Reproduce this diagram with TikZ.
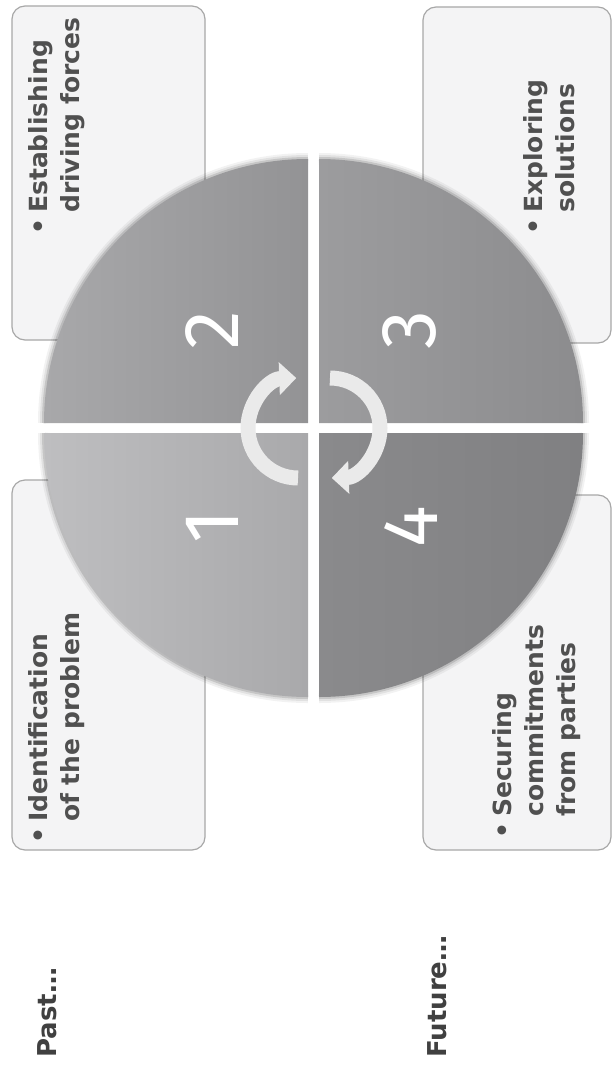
\documentclass[tikz,border=0pt]{standalone}
\usepackage{fontspec}
\setmainfont{DejaVu Sans}
\newfontfamily\numfont{Fira Sans}
\usetikzlibrary{arrows.meta}
\definecolor{boxfill}{HTML}{F4F4F5}
\definecolor{boxline}{HTML}{A8A8A8}
\definecolor{txt}{HTML}{505050}
\definecolor{txtdark}{HTML}{404040}
\definecolor{qoneL}{HTML}{BEBEC0}
\definecolor{qoneR}{HTML}{A9A9AB}
\definecolor{qtwoL}{HTML}{A8A8AA}
\definecolor{qtwoR}{HTML}{939395}
\definecolor{qthrL}{HTML}{9C9C9E}
\definecolor{qthrR}{HTML}{8C8C8E}
\definecolor{qfouL}{HTML}{8A8A8C}
\definecolor{qfouR}{HTML}{808082}
\definecolor{arrowfill}{HTML}{EAEAEA}
\tikzset{
  infobox/.style={draw=boxline, fill=boxfill, line width=1.2pt, rounded corners=13pt, inner sep=0pt},
  boxtext/.style={rotate=90, anchor=north west, inner sep=0pt, align=left, text=txt,
                  font=\bfseries\fontsize{25}{32}\selectfont},
  timetext/.style={rotate=90, anchor=north west, inner sep=0pt, text=txtdark,
                  font=\bfseries\fontsize{26}{32}\selectfont},
  num/.style={rotate=90, text=white, inner sep=0pt, font=\numfont\fontsize{78}{78}\selectfont},
  shad/.style={draw=black, line cap=butt},
  cyc/.style={draw=arrowfill, line width=15pt,
              -{Triangle[width=32pt,length=17pt]}}
}
\begin{document}
\begin{tikzpicture}[x=1pt,y=1pt]
\useasboundingbox (0,0) rectangle (612,-1065);

% boxes
\node[infobox, minimum width=193pt, minimum height=334pt] (boxA) at (108.5,-173) {};
\node[infobox, minimum width=188pt, minimum height=336pt] (boxB) at (517,-175) {};
\node[infobox, minimum width=193pt, minimum height=370pt] (boxC) at (108.5,-665) {};
\node[infobox, minimum width=188pt, minimum height=355pt] (boxD) at (517,-672.5) {};

% shadows along the circle edge
\foreach \w/\o in {12/0.05, 8/0.07, 4/0.12}{
  \draw[shad, line width=\w pt, opacity=\o] (44,-423) arc[start angle=180, end angle=90, radius=264pt];
  \draw[shad, line width=\w pt, opacity=\o] (583,-423) arc[start angle=0, end angle=90, radius=264pt];
  \draw[shad, line width=\w pt, opacity=\o] (44,-433) arc[start angle=180, end angle=270, radius=264pt];
  \draw[shad, line width=\w pt, opacity=\o] (583,-433) arc[start angle=0, end angle=-90, radius=264pt];
}

% quadrants
\shade[left color=qtwoL, right color=qtwoR]
  (308,-423) -- (44,-423) arc[start angle=180, end angle=90, radius=264pt] -- cycle;
\shade[left color=qthrL, right color=qthrR]
  (319,-423) -- (583,-423) arc[start angle=0, end angle=90, radius=264pt] -- cycle;
\shade[left color=qoneL, right color=qoneR]
  (308,-433) -- (44,-433) arc[start angle=180, end angle=270, radius=264pt] -- cycle;
\shade[left color=qfouL, right color=qfouR]
  (319,-433) -- (583,-433) arc[start angle=0, end angle=-90, radius=264pt] -- cycle;

% numbers
\node[num] (n1) at (212,-527) {1};
\node[num] (n2) at (212,-330) {2};
\node[num] (n3) at (409,-330) {3};
\node[num] (n4) at (411,-527) {4};

% cycle arrows
\draw[cyc] (298,-478) arc[start angle=270, end angle=92, radius=50pt];
\draw[cyc] (330,-378) arc[start angle=90, end angle=-88, radius=50pt];

% box texts
\node[boxtext] (tA) at (28,-235) {\makebox[22pt][l]{\textbullet}Establishing\\\hspace*{22pt}driving forces};
\node[boxtext] (tB) at (523,-235) {\makebox[22pt][l]{\textbullet}Exploring\\\hspace*{22pt}solutions};
\node[boxtext] (tC) at (28,-844) {\makebox[22pt][l]{\textbullet}Identification\\\hspace*{22pt}of the problem};
\node[boxtext] (tD) at (492,-839) {\makebox[22pt][l]{\textbullet}Securing\\\hspace*{22pt}commitments\\\hspace*{22pt}from parties};

% time labels
\node[timetext] (past) at (37,-1058) {Past\dots};
\node[timetext] (future) at (427,-1058) {Future\dots};
\end{tikzpicture}
\end{document}
